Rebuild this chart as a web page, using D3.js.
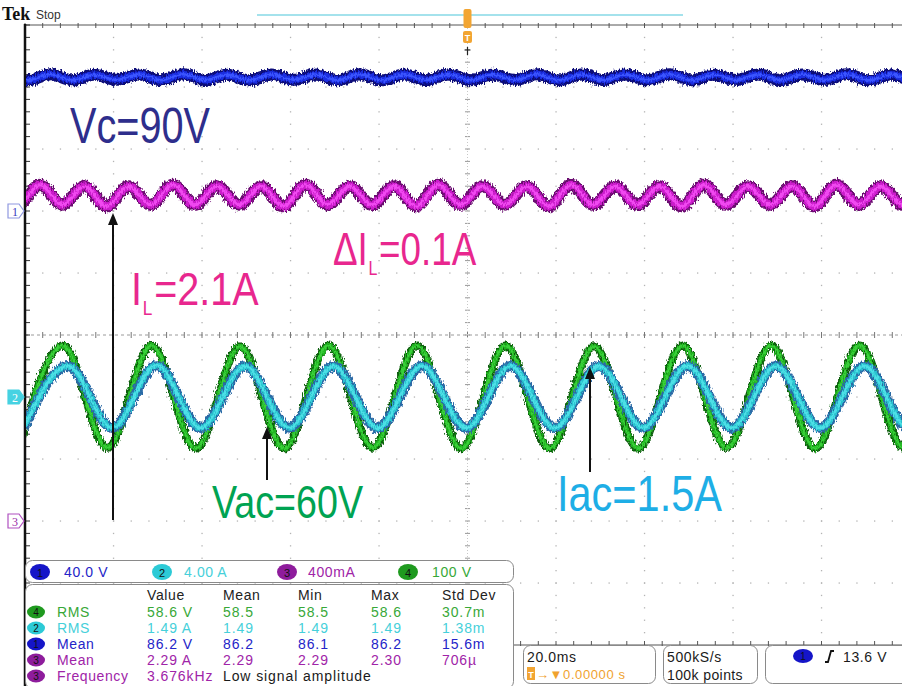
<!DOCTYPE html>
<html>
<head>
<meta charset="utf-8">
<script src="https://cdn.jsdelivr.net/npm/d3@7"></script>
<style>
  html, body { margin: 0; padding: 0; background: #fff; }
  svg { display: block; }
  text { font-family: "Liberation Sans", Arial, sans-serif; }
</style>
</head>
<body>
<svg id="scope" width="902" height="686"></svg>
<script>
// ---- Acquisition settings ----
const timeDomainMs = [-100, 100];          // 10 divisions at 20 ms/div, trigger at centre
const divDomain = [-5, 5];                 // vertical graticule, divisions

// Channel set-up: id, volts/amps per division, ground offset (divisions)
const channelIds     = ["1", "2", "3", "4"];
const channelScale   = [40, 4, 0.4, 100];
const channelOffset  = [2, -1, -3, -1];
const channelLabels  = ["40.0 V", "4.00 A", "400mA", "100 V"];

// ---- Captured waveforms: successive extrema (first time, half period, values) ----
// Ch1  Vc  bus voltage with 100 Hz ripple (V)
const vcStartMs = -104.3, vcHalfMs = 5;
const vcExtrema = [88.0, 84.4, 88.2, 84.3, 87.9, 84.6, 88.1, 84.4, 88.3, 84.5,
                   87.9, 84.3, 88.1, 84.6, 88.0, 84.4, 88.2, 84.3, 88.0, 84.5,
                   88.1, 84.4, 87.9, 84.6, 88.2, 84.3, 88.0, 84.5, 88.1, 84.4,
                   88.2, 84.3, 87.9, 84.5, 88.1, 84.4, 88.0, 84.6, 88.2, 84.3,
                   88.0, 84.4, 88.1];
// Ch3  IL  inductor current with 100 Hz ripple (A)
const ilStartMs = -106.6, ilHalfMs = 5;
const ilExtrema = [2.16, 2.04, 2.17, 2.04, 2.16, 2.03, 2.16, 2.04, 2.17, 2.04,
                   2.16, 2.04, 2.16, 2.03, 2.17, 2.04, 2.16, 2.04, 2.16, 2.03,
                   2.17, 2.04, 2.16, 2.04, 2.16, 2.03, 2.17, 2.04, 2.16, 2.04,
                   2.16, 2.03, 2.17, 2.04, 2.16, 2.04, 2.16, 2.03, 2.17, 2.04,
                   2.16, 2.04, 2.16];
// Ch4  Vac  line voltage (V)
const vacStartMs = -101.4, vacHalfMs = 10;
const vacExtrema = [-83, 83, -82, 83, -83, 82, -83, 83, -82, 83, -83,
                    83, -83, 82, -83, 83, -82, 83, -83, 83, -82, 83];
// Ch2  Iac  line current (A)
const iacStartMs = -100.3, iacHalfMs = 10;
const iacExtrema = [-2.0, 2.0, -2.0, 2.05, -2.0, 2.0, -1.98, 2.0, -2.0, 2.02, -2.0,
                    2.0, -2.0, 2.0, -1.98, 2.02, -2.0, 2.0, -2.0, 2.0, -2.0, 2.0];

// ---- Measurement readout ----
const measHeaders = ["Value", "Mean", "Min", "Max", "Std Dev"];
const measChannels = ["4", "2", "1", "3", "3"];
const measNames = ["RMS", "RMS", "Mean", "Mean", "Frequency"];
const measRows = [
  ["58.6 V", "58.5", "58.5", "58.6", "30.7m"],
  ["1.49 A", "1.49", "1.49", "1.49", "1.38m"],
  ["86.2 V", "86.2", "86.1", "86.2", "15.6m"],
  ["2.29 A", "2.29", "2.29", "2.30", "706\u00b5"],
  ["3.676kHz", "Low signal amplitude"]
];

// ---- Annotations ----
const annVc = "Vc=90V", annVac = "Vac=60V", annIac = "Iac=1.5A";
const annDIL = ["\u0394I", "L", "=0.1A"];
const annIL  = ["I", "L", "=2.1A"];

// ---- Colours ----
const chFill = { "1": "#1515c8", "2": "#2ccad6", "3": "#8e1c9c", "4": "#1f9a1f" };
const chText = { "1": "#2424c8", "2": "#46d0da", "3": "#a024a8", "4": "#38a838" };

const svg = d3.select("#scope");
const x = d3.scaleLinear().domain(timeDomainMs).range([25, 910]);
const y = d3.scaleLinear().domain(divDomain).range([645, 25]);

// ---- Filters: noisy trace edges ----
const defs = svg.append("defs");
const filt = defs.append("filter").attr("id", "fuzz")
  .attr("filterUnits", "userSpaceOnUse").attr("x", 0).attr("y", 0)
  .attr("width", 902).attr("height", 686);
filt.append("feTurbulence").attr("type", "fractalNoise")
  .attr("baseFrequency", "0.9 0.25").attr("numOctaves", 2).attr("seed", 7).attr("result", "n");
filt.append("feDisplacementMap").attr("in", "SourceGraphic").attr("in2", "n")
  .attr("scale", 6).attr("xChannelSelector", "R").attr("yChannelSelector", "G");
defs.append("clipPath").attr("id", "plotClip")
  .append("rect").attr("x", 26).attr("y", 25).attr("width", 876).attr("height", 620);

// ---- Graticule ----
const grat = svg.append("g");
const minorT = d3.range(timeDomainMs[0], timeDomainMs[1] + 0.01, 4);
const minorD = d3.range(divDomain[0], divDomain[1] + 0.001, 0.2);
const majorT = d3.range(-80, 81, 20);
const majorD = d3.range(-4, 4.01, 1);

majorT.filter(t => t !== 0).forEach(t => {
  grat.selectAll(null).data(minorD).enter().append("rect")
    .attr("x", x(t) - 0.6).attr("y", d => y(d) - 0.6).attr("width", 1.3).attr("height", 1.3)
    .attr("fill", "#b4b4b4");
});
majorD.filter(d => d !== 0).forEach(dv => {
  grat.selectAll(null).data(minorT).enter().append("rect")
    .attr("x", d => x(d) - 0.6).attr("y", y(dv) - 0.6).attr("width", 1.3).attr("height", 1.3)
    .attr("fill", "#b4b4b4");
});
// centre horizontal axis
grat.append("line").attr("x1", 25).attr("x2", 902).attr("y1", y(0)).attr("y2", y(0))
  .attr("stroke", "#9a9a9a").attr("stroke-width", 1).attr("stroke-dasharray", "3,3");
grat.selectAll(null).data(minorT).enter().append("line")
  .attr("x1", d => x(d)).attr("x2", d => x(d)).attr("y1", y(0) - 3).attr("y2", y(0) + 3)
  .attr("stroke", "#777").attr("stroke-width", 1);
// centre vertical axis
grat.selectAll(null).data(minorD).enter().append("line")
  .attr("x1", x(0) - 2.5).attr("x2", x(0) + 2.5).attr("y1", d => y(d)).attr("y2", d => y(d))
  .attr("stroke", "#999").attr("stroke-width", 1);
grat.selectAll(null).data(d3.range(25, 645, 3)).enter().append("rect")
  .attr("x", x(0) - 0.5).attr("y", d => d).attr("width", 1).attr("height", 1)
  .attr("fill", "#c8c8c8");
// frame: top, bottom, left
grat.append("line").attr("x1", 25).attr("x2", 902).attr("y1", 25).attr("y2", 25)
  .attr("stroke", "#555").attr("stroke-width", 1);
grat.selectAll(null).data(minorT).enter().append("line")
  .attr("x1", d => x(d)).attr("x2", d => x(d)).attr("y1", 23).attr("y2", 28)
  .attr("stroke", "#555").attr("stroke-width", 1);
grat.append("line").attr("x1", 25).attr("x2", 902).attr("y1", 645).attr("y2", 645)
  .attr("stroke", "#555").attr("stroke-width", 1);
grat.selectAll(null).data(minorT).enter().append("line")
  .attr("x1", d => x(d)).attr("x2", d => x(d)).attr("y1", 641).attr("y2", 646)
  .attr("stroke", "#555").attr("stroke-width", 1);
grat.selectAll(null).data(minorD).enter().append("line")
  .attr("x1", 25).attr("x2", 30).attr("y1", d => y(d)).attr("y2", d => y(d))
  .attr("stroke", "#333").attr("stroke-width", 1);
grat.append("line").attr("x1", 25).attr("x2", 25).attr("y1", 24).attr("y2", 686)
  .attr("stroke", "#111").attr("stroke-width", 2.5);

// ---- Header: logo, status, record view, trigger position ----
svg.append("text").attr("x", 2).attr("y", 20).text("Tek")
  .style("font-family", "'Liberation Serif', serif").style("font-weight", "bold")
  .style("font-size", "18px").attr("fill", "#111");
svg.append("text").attr("x", 36).attr("y", 19).text("Stop")
  .style("font-size", "12px").attr("fill", "#333");
svg.append("line").attr("x1", 257).attr("x2", 683).attr("y1", 15).attr("y2", 15)
  .attr("stroke", "#86d8e6").attr("stroke-width", 1.5);
svg.append("rect").attr("x", x(0) - 4).attr("y", 9).attr("width", 8).attr("height", 19)
  .attr("rx", 2).attr("fill", "#f2a532");
svg.append("rect").attr("x", x(0) - 4.5).attr("y", 31).attr("width", 9).attr("height", 12)
  .attr("rx", 2).attr("fill", "#f2a532");
svg.append("text").attr("x", x(0)).attr("y", 41).attr("text-anchor", "middle").text("T")
  .style("font-size", "9px").style("font-weight", "bold").attr("fill", "#fff");
svg.append("path").attr("d", `M${x(0) - 3},50 h6 M${x(0)},47 v8`)
  .attr("stroke", "#222").attr("stroke-width", 1.2);

// ---- Traces ----
const traces = [
  { ch: 0, t0: vcStartMs,  half: vcHalfMs,  vals: vcExtrema,  outer: "#0a0a78", inner: "#1a2ee0", core: "#3a55ff", wo: 12, wi: 7,  wc: 2.5 },
  { ch: 2, t0: ilStartMs,  half: ilHalfMs,  vals: ilExtrema,  outer: "#6a0a70", inner: "#cc1fcc", core: "#f048f0", wo: 12, wi: 8,  wc: 3 },
  { ch: 3, t0: vacStartMs, half: vacHalfMs, vals: vacExtrema, outer: "#0d5e0d", inner: "#22b422", core: "#3ad03a", wo: 8,  wi: 5,  wc: 2 },
  { ch: 1, t0: iacStartMs, half: iacHalfMs, vals: iacExtrema, outer: "#2c6aa6", inner: "#2cc4d0", core: "#4ee0e6", wo: 10, wi: 6,  wc: 2.5 }
];
const traceLayer = svg.append("g").attr("clip-path", "url(#plotClip)");
traces.forEach(tr => {
  const pts = tr.vals.map((v, i) => [tr.t0 + i * tr.half, v]);
  const line = d3.line()
    .x(d => x(d[0]))
    .y(d => y(channelOffset[tr.ch] + d[1] / channelScale[tr.ch]))
    .curve(d3.curveMonotoneX);
  const g = traceLayer.append("g").attr("filter", "url(#fuzz)");
  [[tr.outer, tr.wo], [tr.inner, tr.wi], [tr.core, tr.wc]].forEach(([c, w]) => {
    g.append("path").attr("d", line(pts)).attr("fill", "none")
      .attr("stroke", c).attr("stroke-width", w).attr("stroke-linejoin", "round");
  });
});

// ---- Channel ground markers ----
function groundMarker(id, filled, stroke, txt) {
  const yy = y(channelOffset[+id - 1]);
  svg.append("path").attr("d", `M8,${yy - 7} h11 l5,7 l-5,7 h-11 z`)
    .attr("fill", filled ? stroke : "#fff").attr("stroke", stroke).attr("stroke-width", 1.2);
  svg.append("text").attr("x", 15).attr("y", yy + 4.5).attr("text-anchor", "middle").text(id)
    .style("font-family", "'Liberation Serif', serif").style("font-size", "12px").attr("fill", txt);
}
groundMarker("1", false, "#8f98e0", "#3a3ac0");
groundMarker("2", true, "#46d2e2", "#ffffff");
groundMarker("3", false, "#b050c0", "#9a2aa8");

// ---- Annotations and arrows ----
function arrow(xx, y0, tip) {
  svg.append("line").attr("x1", xx).attr("x2", xx).attr("y1", y0).attr("y2", tip + 10)
    .attr("stroke", "#111").attr("stroke-width", 2);
  svg.append("path").attr("d", `M${xx},${tip} l-5,12 h10 z`).attr("fill", "#111");
}
arrow(113, 520, 213);
arrow(267, 480, 427);
arrow(590, 472, 367);

function label(s, xx, yy, size, len, color) {
  return svg.append("text").attr("x", xx).attr("y", yy).text(s)
    .style("font-size", size + "px").attr("fill", color)
    .attr("textLength", len).attr("lengthAdjust", "spacingAndGlyphs");
}
// label with a subscript, drawn as one condensed text run
function subLabel(parts, xx, yy, sx, gap, color) {
  const t = svg.append("text").attr("transform", `translate(${xx},${yy}) scale(${sx},1)`)
    .style("font-size", "46px").attr("fill", color);
  t.append("tspan").text(parts[0]);
  t.append("tspan").attr("dx", 1).attr("dy", 10).style("font-size", "20px").text(parts[1]);
  t.append("tspan").attr("dx", gap).attr("dy", -10).text(parts[2]);
}
const pink = "#e8278e";
label(annVc, 70, 143, 50, 140, "#2e2e8c");
subLabel(annDIL, 333, 265, 0.8, 2, pink);
subLabel(annIL, 131, 305, 0.86, 2, pink);
label(annVac, 212, 518, 46, 151, "#00a352");
label(annIac, 557, 511, 50, 165, "#1eaee6");

// ---- Channel scale bar ----
const panel = svg.append("g").style("font-size", "14px");
panel.append("rect").attr("x", 25.5).attr("y", 560.5).attr("width", 488).attr("height", 22)
  .attr("rx", 7).attr("fill", "#fff").attr("stroke", "#8a8a8a");
const barX = [40, 162, 287, 408];
const barTextX = [64, 184, 308, 432];
channelIds.forEach((id, i) => {
  panel.append("ellipse").attr("cx", barX[i]).attr("cy", 572).attr("rx", 10).attr("ry", 8)
    .attr("fill", chFill[id]);
  panel.append("text").attr("x", barX[i]).attr("y", 576.5).attr("text-anchor", "middle").text(id)
    .style("font-size", "11px").attr("fill", "#111");
  panel.append("text").attr("x", barTextX[i]).attr("y", 577).text(channelLabels[i])
    .attr("fill", chText[id]).style("letter-spacing", "0.6px");
});

// ---- Measurement table ----
panel.append("rect").attr("x", 25.5).attr("y", 584.5).attr("width", 488).attr("height", 104)
  .attr("rx", 7).attr("fill", "#fff").attr("stroke", "#8a8a8a");
const colX = [147, 223, 298, 371, 442];
measHeaders.forEach((h, i) => {
  panel.append("text").attr("x", colX[i]).attr("y", 600).text(h)
    .attr("fill", "#222").style("letter-spacing", "0.6px");
});
const rowY = [617, 633, 649, 665, 681];
measRows.forEach((row, r) => {
  const id = measChannels[r];
  panel.append("ellipse").attr("cx", 36).attr("cy", rowY[r] - 5).attr("rx", 9).attr("ry", 6.5)
    .attr("fill", chFill[id]);
  panel.append("text").attr("x", 36).attr("y", rowY[r] - 1).attr("text-anchor", "middle").text(id)
    .style("font-size", "10px").attr("fill", "#111");
  panel.append("text").attr("x", 57).attr("y", rowY[r]).text(measNames[r])
    .attr("fill", chText[id]).style("letter-spacing", "0.6px");
  row.forEach((v, c) => {
    const isNote = r === 4 && c === 1;
    panel.append("text").attr("x", colX[c]).attr("y", rowY[r]).text(v)
      .attr("fill", isNote ? "#1a1a1a" : chText[id]).style("letter-spacing", "0.9px");
  });
});

// ---- Timebase / acquisition / trigger readouts ----
const boxes = [[523, 132], [663, 94], [765, 150]];
boxes.forEach(([bx, bw]) => {
  panel.append("rect").attr("x", bx + 0.5).attr("y", 645.5).attr("width", bw).attr("height", 38)
    .attr("rx", 7).attr("fill", "#fff").attr("stroke", "#8a8a8a");
});
panel.append("text").attr("x", 527).attr("y", 662).text("20.0ms").attr("fill", "#1a1a1a")
  .style("letter-spacing", "0.6px");
panel.append("rect").attr("x", 527).attr("y", 667).attr("width", 8).attr("height", 13)
  .attr("fill", "#f2a532");
panel.append("text").attr("x", 531).attr("y", 678).attr("text-anchor", "middle").text("T")
  .style("font-size", "9px").style("font-weight", "bold").attr("fill", "#fff");
panel.append("text").attr("x", 536).attr("y", 679).text("\u2192\u25bc0.00000 s")
  .style("font-size", "13px").attr("fill", "#f0a22e").style("letter-spacing", "0.6px");
panel.append("text").attr("x", 667).attr("y", 662).text("500kS/s").attr("fill", "#1a1a1a")
  .style("letter-spacing", "0.6px");
panel.append("text").attr("x", 667).attr("y", 680).text("100k points").attr("fill", "#1a1a1a")
  .style("letter-spacing", "0.4px");
panel.append("ellipse").attr("cx", 803).attr("cy", 656).attr("rx", 10).attr("ry", 7)
  .attr("fill", chFill["1"]);
panel.append("text").attr("x", 803).attr("y", 660).attr("text-anchor", "middle").text("1")
  .style("font-size", "10px").attr("fill", "#111");
panel.append("path").attr("d", "M825,662 h3 l3,-11 h3").attr("fill", "none")
  .attr("stroke", "#111").attr("stroke-width", 1.8);
panel.append("text").attr("x", 843).attr("y", 662).text("13.6 V").attr("fill", "#1a1a1a")
  .style("letter-spacing", "0.6px");
</script>
</body>
</html>
